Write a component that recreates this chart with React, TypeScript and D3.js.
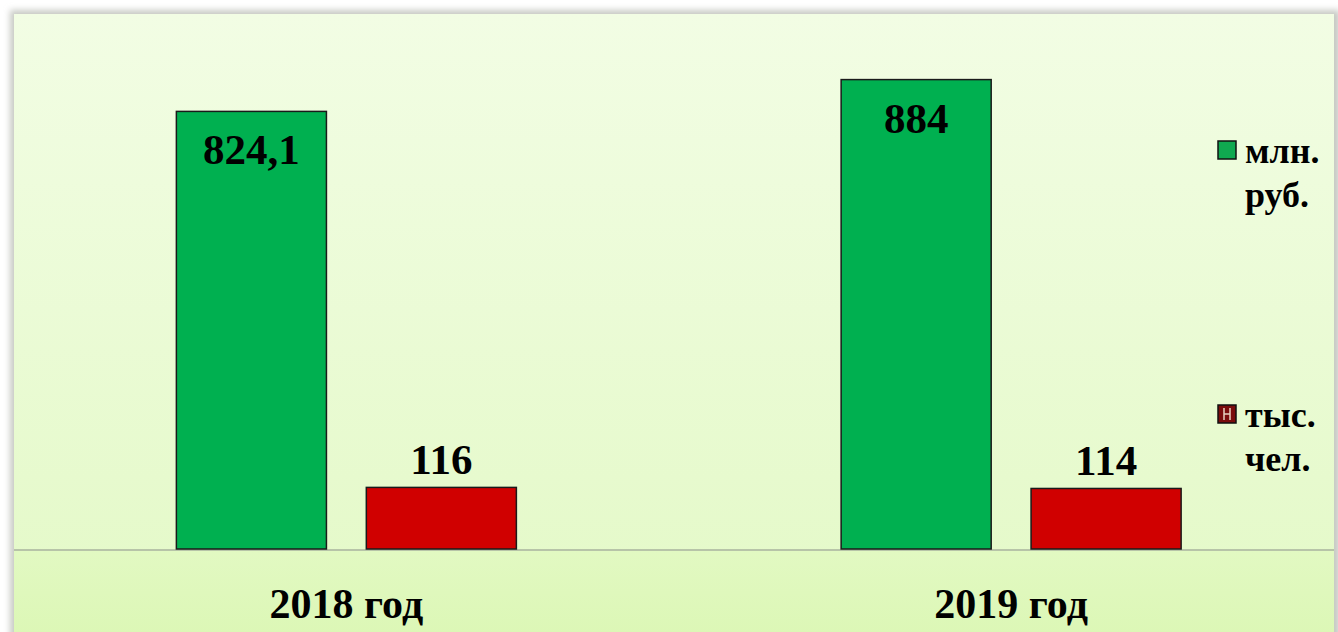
import React from "react";
import * as d3 from "d3";

const categories = ["2018 год", "2019 год"];
const seriesNames = ["млн. руб.", "тыс. чел."];
const moneyValues = [824.1, 884];
const peopleValues = [116, 114];
const moneyLabels = ["824,1", "884"];
const peopleLabels = ["116", "114"];
const legendLines = [["млн.", "руб."], ["тыс.", "чел."]];

const W = 1338;
const H = 632;
const FONT = "'Liberation Serif', 'Times New Roman', serif";

export default function App() {
  const baseY = 549;
  const x0 = d3.scaleBand<string>().domain(categories).range([14, 1343.5]).padding(0);
  const y = d3.scaleLinear().domain([0, 1000]).range([baseY, 18]);
  const colors = ["#00b050", "#d00000"];

  const series = [
    { name: seriesNames[0], values: moneyValues, labels: moneyLabels, inside: true },
    { name: seriesNames[1], values: peopleValues, labels: peopleLabels, inside: false },
  ];

  return (
    <svg
      width={W}
      height={H}
      style={{ position: "fixed", left: 0, top: 0, background: "#ffffff" }}
    >
      <defs>
        <linearGradient id="bg" x1="0" y1="0" x2="0" y2="1">
          <stop offset="0" stopColor="#f2fde4" />
          <stop offset="1" stopColor="#e3f9c6" />
        </linearGradient>
        <linearGradient id="band" x1="0" y1="0" x2="0" y2="1">
          <stop offset="0" stopColor="#e2f9c2" />
          <stop offset="1" stopColor="#dcf7b6" />
        </linearGradient>
        <filter id="shadow" x="-5%" y="-5%" width="110%" height="110%">
          <feGaussianBlur stdDeviation="3" />
        </filter>
      </defs>
      <rect x={10} y={10} width={1330} height={640} fill="#c8cac4" filter="url(#shadow)" />
      <rect x={14} y={14} width={1320} height={630} fill="url(#bg)" />
      <rect x={14} y={baseY + 2} width={1320} height={H - baseY} fill="url(#band)" />
      <line x1={14} x2={1334} y1={baseY + 1} y2={baseY + 1} stroke="#b7c4a8" strokeWidth={2} />

      {categories.map((cat, ci) => {
        const c = (x0(cat) as number) + x0.bandwidth() / 2;
        const x1 = d3.scaleBand<string>().domain(seriesNames).range([c - 170, c + 170]).paddingInner(0.21);
        return (
          <g key={cat}>
            {series.map((s, si) => {
              const bx = x1(s.name) as number;
              const bw = x1.bandwidth();
              const top = y(s.values[ci]);
              return (
                <g key={s.name}>
                  <rect
                    x={bx}
                    y={top}
                    width={bw}
                    height={baseY - top}
                    fill={colors[si]}
                    stroke="#1a1a1a"
                    strokeWidth={1.5}
                  />
                  <text
                    x={bx + bw / 2}
                    y={s.inside ? top + 53 : top - 13}
                    textAnchor="middle"
                    fontFamily={FONT}
                    fontWeight="bold"
                    fontSize={43}
                    fill="#000"
                  >
                    {s.labels[ci]}
                  </text>
                </g>
              );
            })}
            <text
              x={c}
              y={618}
              textAnchor="middle"
              fontFamily={FONT}
              fontWeight="bold"
              fontSize={42}
              fill="#000"
            >
              {cat}
            </text>
          </g>
        );
      })}

      {legendLines.map((lines, i) => {
        const ly = i === 0 ? 141 : 405;
        return (
          <g key={i}>
            <rect
              x={1218}
              y={ly}
              width={18}
              height={18}
              fill={i === 0 ? "#10a850" : "#7a0c0c"}
              stroke="#111"
              strokeWidth={1.5}
            />
            {i === 1 && (
              <g stroke="#e8d0c0" strokeWidth={1.5}>
                <line x1={1224} x2={1224} y1={ly + 3} y2={ly + 15} />
                <line x1={1230} x2={1230} y1={ly + 3} y2={ly + 15} />
                <line x1={1224} x2={1230} y1={ly + 9} y2={ly + 9} />
              </g>
            )}
            {lines.map((t, j) => (
              <text
                key={j}
                x={1245}
                y={ly + 22 + j * 44}
                fontFamily={FONT}
                fontWeight="bold"
                fontSize={36}
                fill="#000"
              >
                {t}
              </text>
            ))}
          </g>
        );
      })}
    </svg>
  );
}
